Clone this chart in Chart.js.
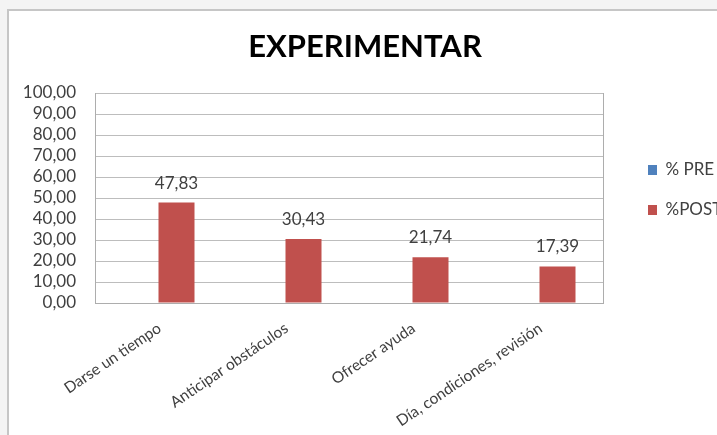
<!DOCTYPE html>
<html>
<head>
<meta charset="utf-8">
<script src="https://cdn.jsdelivr.net/npm/chart.js@4/dist/chart.umd.min.js"></script>
<style>
  html, body { margin: 0; padding: 0; overflow: hidden; background: #f4f4f4; width: 717px; height: 435px; }
  .marco { position: absolute; left: 7px; top: 9px; width: 714px; height: 440px; background: #fff; border: 2px solid #c6c6c6; }
  canvas { display: block; }
</style>
</head>
<body>
<div class="marco"><canvas id="experimentar" width="714" height="424"></canvas></div>
<script>
Chart.defaults.font.family = 'Lato'
Chart.defaults.color = '#404040'

const categorias = ['Darse un tiempo', 'Anticipar obstáculos', 'Ofrecer ayuda', 'Día, condiciones, revisión']
const valoresPre = [0, 0, 0, 0]
const valoresPost = [47.83, 30.43, 21.74, 17.39]
const serieNombres = ['% PRE', '%POST']

const coma = v => v.toFixed(2).replace('.', ',')

// etiquetas de valor encima de las barras %POST
const etiquetasValor = {
    id: 'etiquetasValor',
    afterDatasetsDraw(chart) {
        const ctx = chart.ctx
        const meta = chart.getDatasetMeta(1)
        ctx.save()
        ctx.font = '17px Lato'
        ctx.fillStyle = '#404040'
        ctx.textAlign = 'center'
        ctx.textBaseline = 'alphabetic'
        meta.data.forEach((bar, i) => {
            ctx.fillText(coma(valoresPost[i]), bar.x, bar.y - 14)
        })
        ctx.restore()
    }
}

const data = {
    labels: categorias,
    datasets: [{
        label: serieNombres[0],
        data: valoresPre,
        backgroundColor: '#4f81bd'
    }, {
        label: serieNombres[1],
        data: valoresPost,
        backgroundColor: '#c0504d'
    }]
}

const options = {
    responsive: false,
    animation: false,
    layout: { padding: { left: 0, right: 2, top: 0, bottom: 0 } },
    datasets: { bar: { barPercentage: 1, categoryPercentage: 0.567 } },
    plugins: {
        title: {
            display: true,
            text: 'EXPERIMENTAR',
            color: '#000',
            font: { size: 31, weight: 'bold' },
            padding: { top: 17, bottom: 27.8 }
        },
        legend: {
            position: 'right',
            align: 'start',
            fullSize: false,
            maxWidth: 96,
            title: { display: true, text: '', font: { size: 10, lineHeight: 1 }, padding: { top: 35.5, bottom: 0 } },
            labels: { boxWidth: 9, boxHeight: 10, padding: 23, font: { size: 17 }, color: '#404040' }
        },
        tooltip: { enabled: false }
    },
    scales: {
        x: {
            grid: { display: false },
            border: { color: '#adadad' },
            ticks: { minRotation: 34, maxRotation: 34, autoSkip: false, padding: 8, labelOffset: 1, font: { size: 15.5 } },
            afterFit: s => { s.height = 132 }
        },
        y: {
            min: 0,
            max: 100,
            ticks: { stepSize: 10, autoSkip: false, padding: 19, font: { size: 17 }, callback: v => coma(v) },
            grid: { color: '#bdbdbd', drawTicks: false },
            border: { color: '#adadad' },
            afterFit: s => { s.width = 86 }
        },
        derecha: {
            position: 'right',
            display: true,
            grid: { display: false, drawTicks: false },
            border: { color: '#adadad' },
            ticks: { display: false },
            afterFit: s => { s.width = 22 }
        }
    }
}

new Chart('experimentar', { type: 'bar', data, options, plugins: [etiquetasValor] })
</script>
</body>
</html>
